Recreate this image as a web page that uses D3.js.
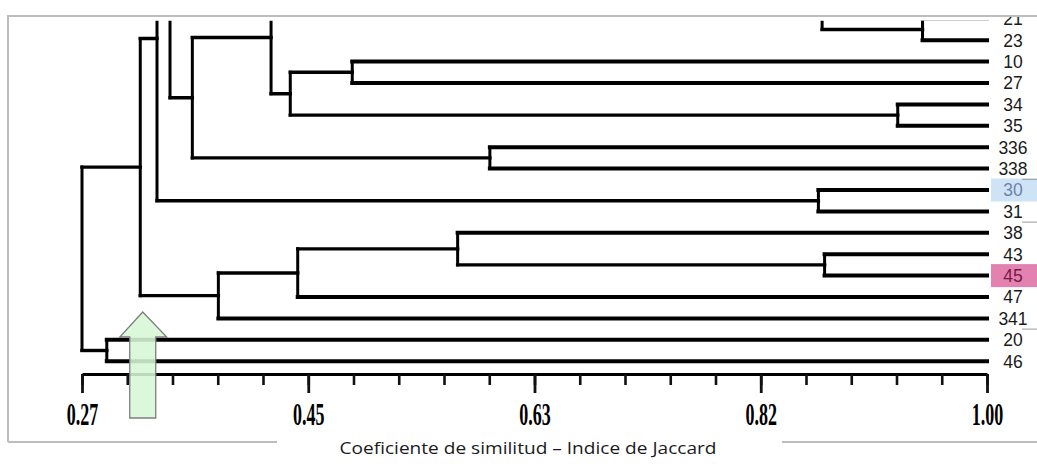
<!DOCTYPE html>
<html>
<head>
<meta charset="utf-8">
<script src="https://cdn.jsdelivr.net/npm/d3@7"></script>
<style>
	body { margin: 0; background: #fff; }
</style>
</head>
<body>
<div id="chart"></div>
<script>

// leaves, top to bottom as they show in the cropped figure
var leafLabels = ["21","23","10","27","34","35","336","338","30","31","38","43","45","47","341","20","46"];

// clusters that continue above the cropped top edge (only their row is known)
var hiddenLeaves = ["up1","up2"],
	hiddenRows = [-4,-17];

// linkage: node id, its two children, and the similarity where they join
var nodeIds   = ["m1","m2","m3","m4","m5","m6","m7","m8","m9","m10","m11","m12","m13","m14","m15","m16","m17","m18"];
var nodeLeft  = ["21","10","34","336","30","43","38","m7","m8","20","up1","m2","m11","m13","up2","m15","m16","m17"];
var nodeRight = ["23","27","35","338","31","45","m6","47","341","46","m1","m3","m12","m4","m14","m5","m9","m10"];
var nodeSim   = [0.948,0.488,0.928,0.599,0.864,0.869,0.573,0.444,0.380,0.290,0.867,0.438,0.4225,0.359,0.341,0.3305,0.317,0.27];

var tickValues = [0.27,0.4525,0.635,0.8175,1.00],
	tickLabels = ["0.27","0.45","0.63","0.82","1.00"];

var highlightLeaves = ["30","45"],
	highlightFill = ["#cfe3f7","#e382b0"],
	highlightText = ["#6a84a6","#7a1846"];

var arrowAt = 0.319;

var axisTitle = "Coeficiente de similitud \u2013 Indice de Jaccard";


var width = 1037,
	height = 464;

var svg = d3.select("#chart")
	.append("svg")
	.attr("width", width)
	.attr("height", height)
	.style("display", "block");

var x = d3.scaleLinear()
	.domain([0.27, 1.00])
	.range([82, 987]);

var y = d3.scaleLinear()
	.domain([0, 16])
	.range([18.8, 361.2]);

// positions of every leaf and node
var pos = {};
leafLabels.forEach(function(d, i){
	pos[d] = {sim: 1, row: i, leaf: true};
});
hiddenLeaves.forEach(function(d, i){
	pos[d] = {sim: 1, row: hiddenRows[i], leaf: true};
});
nodeIds.forEach(function(id, i){
	pos[id] = {
		sim: nodeSim[i],
		row: (pos[nodeLeft[i]].row + pos[nodeRight[i]].row) / 2,
		leaf: false
	};
});

var segs = [];
nodeIds.forEach(function(id, i){
	var a = pos[nodeLeft[i]],
		b = pos[nodeRight[i]],
		s = nodeSim[i];
	segs.push({x1: s, x2: s, r1: a.row, r2: b.row, kind: "v"});
	[a, b].forEach(function(c){
		segs.push({x1: s, x2: c.sim, r1: c.row, r2: c.row, kind: c.leaf ? "leaf" : "h"});
	});
});

svg.append("defs").append("clipPath")
	.attr("id", "crop")
	.append("rect")
	.attr("x", 0).attr("y", 20.8)
	.attr("width", width).attr("height", height);

svg.append("defs").append("clipPath")
	.attr("id", "cropText")
	.append("rect")
	.attr("x", 0).attr("y", 17)
	.attr("width", width).attr("height", height);

var tree = svg.append("g").attr("clip-path", "url(#crop)");

tree.selectAll("line")
	.data(segs)
		.enter()
	.append("line")
	.attr("x1", function(d){ return x(d.x1); })
	.attr("x2", function(d){ return x(d.x2); })
	.attr("y1", function(d){ return y(d.r1); })
	.attr("y2", function(d){ return y(d.r2); })
	.attr("stroke", "#000")
	.attr("stroke-linecap", "square")
	.attr("stroke-width", function(d){
		return d.kind == "leaf" ? 4 : (d.kind == "h" ? 3.4 : 3);
	});

// leaf labels
var labels = svg.append("g").attr("clip-path", "url(#cropText)");

labels.selectAll("rect")
	.data(highlightLeaves)
		.enter()
	.append("rect")
	.attr("x", 991)
	.attr("y", function(d){ return y(pos[d].row) - 11.5; })
	.attr("width", 46)
	.attr("height", 23)
	.attr("fill", function(d, i){ return highlightFill[i]; });

labels.selectAll("text")
	.data(leafLabels)
		.enter()
	.append("text")
	.attr("x", 1013)
	.attr("y", function(d){ return y(pos[d].row); })
	.attr("dy", "0.36em")
	.attr("text-anchor", "middle")
	.style("font-family", "'Liberation Sans', Arial, sans-serif")
	.style("font-size", "17.5px")
	.attr("fill", function(d){
		var k = highlightLeaves.indexOf(d);
		return k >= 0 ? highlightText[k] : "#1a1a1a";
	})
	.text(function(d){ return d; });

// little cell marks beside a few labels
[["338", 0.5], ["31", 0.5], ["341", 0.5]].forEach(function(m){
	var yy = y(pos[m[0]].row + m[1]);
	svg.append("line")
		.attr("x1", 1022).attr("x2", 1037)
		.attr("y1", yy).attr("y2", yy)
		.attr("stroke", "#999")
		.attr("stroke-width", 1);
});

// axis: minor ticks then major ticks with labels
var minorTicks = d3.range(21).map(function(i){ return 0.27 + i * (1.00 - 0.27) / 20; });

var axisY = 374;

var minor = svg.append("g")
	.attr("transform", "translate(0," + axisY + ")")
	.call(d3.axisBottom(x).tickValues(minorTicks).tickSize(11).tickSizeOuter(0).tickFormat(""));
minor.select(".domain").attr("stroke-width", 3).attr("stroke", "#000");
minor.selectAll(".tick line").attr("stroke-width", 2.6).attr("stroke", "#111");

var major = svg.append("g")
	.attr("transform", "translate(0," + axisY + ")")
	.call(d3.axisBottom(x).tickValues(tickValues).tickSize(19).tickSizeOuter(0)
		.tickFormat(function(d, i){ return tickLabels[i]; }));
major.select(".domain").remove();
major.selectAll(".tick line").attr("stroke-width", 2.8).attr("stroke", "#111");
major.selectAll(".tick text")
	.attr("y", 51)
	.attr("dy", 0)
	.attr("transform", "scale(0.58,1)")
	.attr("fill", "#000")
	.style("font-family", "'Liberation Serif', 'Times New Roman', serif")
	.style("font-weight", "bold")
	.style("font-size", "31px");

// green arrow
var ax = x(arrowAt);
var arrowPts = [
	[ax, 312], [ax + 24, 337], [ax + 13, 337], [ax + 13, 418],
	[ax - 13, 418], [ax - 13, 337], [ax - 23, 337]
];
svg.append("polygon")
	.attr("points", arrowPts.map(function(p){ return p.join(","); }).join(" "))
	.attr("fill", "#d6f7d6")
	.attr("fill-opacity", 0.88)
	.attr("stroke", "#7d7d7d")
	.attr("stroke-width", 1.3);

// frame
var frame = svg.append("g")
	.attr("stroke", "#bdbdbd")
	.attr("stroke-width", 2)
	.attr("fill", "none");
frame.append("path").attr("d", "M8,442V16H1037");
frame.append("path").attr("d", "M8,442H277");
frame.append("path").attr("d", "M782,442H1037");

svg.append("text")
	.attr("x", 528)
	.attr("y", 454)
	.attr("text-anchor", "middle")
	.attr("textLength", 377)
	.attr("lengthAdjust", "spacingAndGlyphs")
	.style("font-family", "'Open Sans', sans-serif")
	.style("font-size", "15.5px")
	.attr("fill", "#1a1a1a")
	.text(axisTitle);

</script>
</body>
</html>
